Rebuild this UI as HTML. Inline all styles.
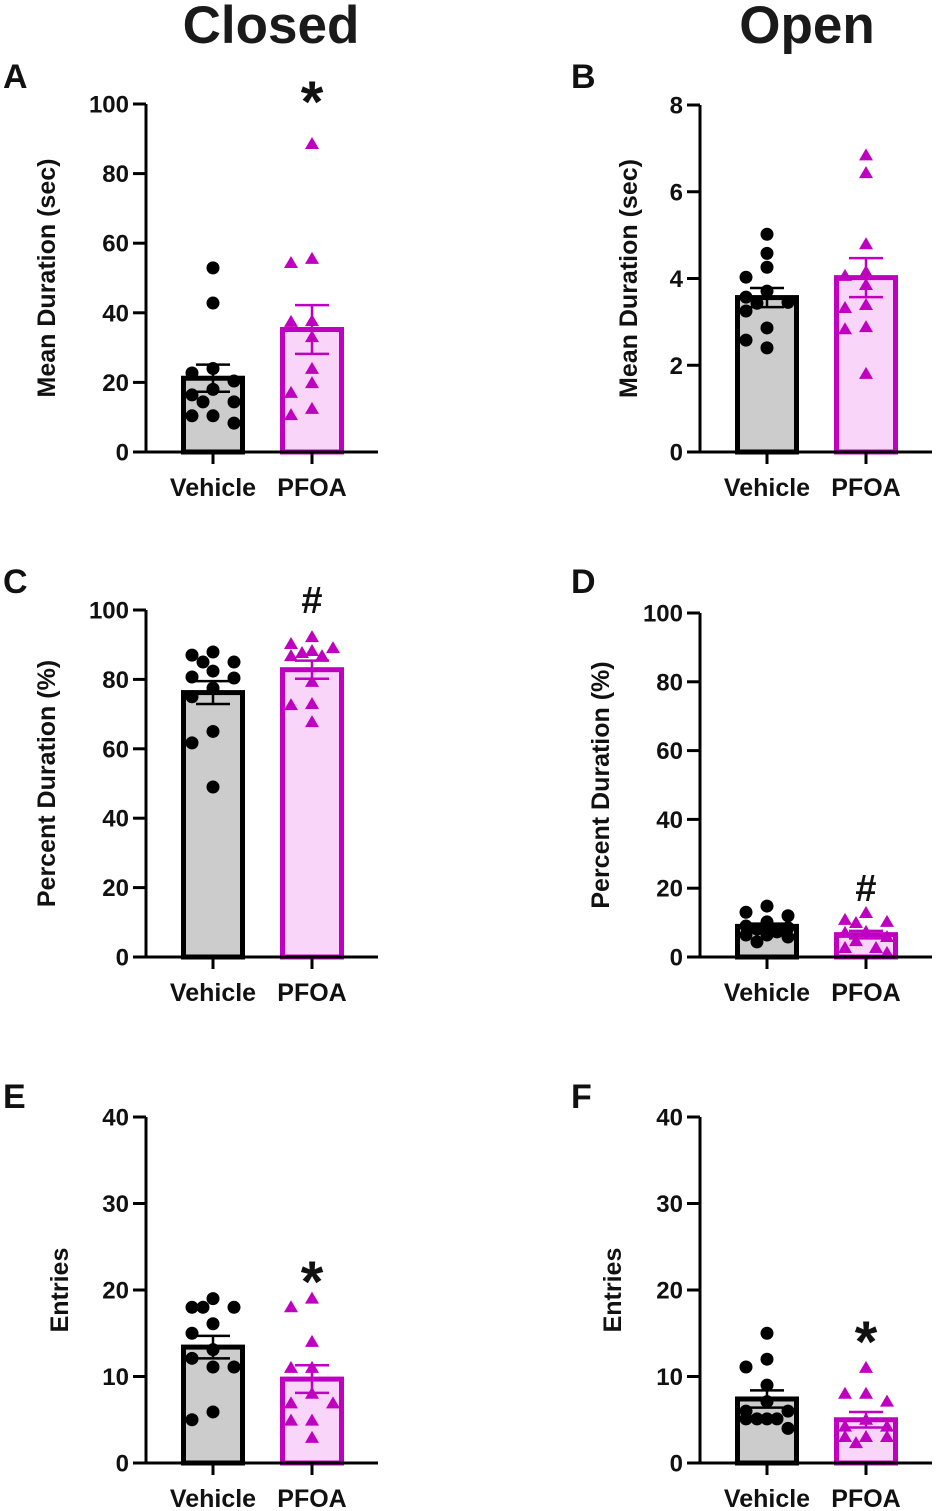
<!DOCTYPE html>
<html><head><meta charset="utf-8">
<style>
html,body{margin:0;padding:0;background:#fff;}
svg{display:block;font-family:"Liberation Sans",Arial,sans-serif;font-weight:bold;}
</style></head>
<body>
<svg id="fig" width="937" height="1511" viewBox="0 0 937 1511" xmlns="http://www.w3.org/2000/svg">
<text x="271" y="43" font-size="53" text-anchor="middle" fill="#1a1a1a">Closed</text>
<text x="807" y="43" font-size="53" text-anchor="middle" fill="#1a1a1a">Open</text>
</svg>
<script>
const categories = ["Vehicle", "PFOA"];
// Panel A: closed mean duration
const aVehicle = [52.9,42.8,24,22.7,20.4,18,16.4,14.4,14.4,10.4,10.4,8.3];
const aPfoa = [88.5,55.5,54.3,37.4,37.6,33,23.9,19.8,17,12.4,10.6];
const aMeans = [21.2,35.2];
const aSem = [3.9,7.0];
const aTicks = [0,20,40,60,80,100];
// Panel B: open mean duration
const bVehicle = [5.02,4.58,4.26,4.03,3.71,3.57,3.43,3.45,3.25,2.86,2.58,2.40];
const bPfoa = [6.84,6.43,4.79,4.06,4.15,3.85,3.39,3.32,2.88,2.83,1.80];
const bMeans = [3.56,4.02];
const bSem = [0.22,0.45];
const bTicks = [0,2,4,6,8];
// Panel C: closed percent duration
const cVehicle = [85,85,87,87.9,80.4,80.7,82.4,77.5,75,65,61.7,49];
const cPfoa = [90.2,89,92.2,88.2,87.6,86.7,86.7,79.3,72.9,72.6,67.7];
const cMeans = [76.2,82.8];
const cSem = [3.3,2.6];
const cTicks = [0,20,40,60,80,100];
// Panel D: open percent duration
const dVehicle = [14.8,13,12,10.2,9,8.5,8.1,7.3,6.4,6.4,5.8,4.4];
const dPfoa = [12.8,9.9,10.2,10.8,7,4.6,2.6,1.2,2.6,5.8,7.3];
const dMeans = [8.9,6.5];
const dSem = [0.8,1.1];
const dTicks = [0,20,40,60,80,100];
// Panel E: closed entries
const eVehicle = [19,18,18,18,16.1,15,13.1,11.1,11.1,12.1,5.9,5];
const ePfoa = [19,18,14,11,11,8,6.9,6.9,4.9,4.9,2.9];
const eMeans = [13.4,9.7];
const eSem = [1.3,1.6];
const eTicks = [0,10,20,30,40];
// Panel F: open entries
const fVehicle = [15,12,11.1,9,7.1,6,6,5.1,5.1,5.1,5.1,4];
const fPfoa = [11,8,8,7.1,5,3,3,3,4.2,2.3,4.2];
const fMeans = [7.4,5.0];
const fSem = [1.0,0.9];
const fTicks = [0,10,20,30,40];

const NS = "http://www.w3.org/2000/svg";
const svg = document.getElementById("fig");
function mk(tag, attrs, parent){
  const e = document.createElementNS(NS, tag);
  for (const k in attrs) e.setAttribute(k, attrs[k]);
  (parent||svg).appendChild(e);
  return e;
}
const MAG = "#c000c0";

// compact beeswarm within ±21px of category center
function swarm(vals, cx, yS){
  const order = vals.map((v,k)=>k).sort((a,b)=>vals[b]-vals[a]);
  const placed = [];
  const xs = new Array(vals.length);
  const cands = [0,-21,21,-10,10];
  order.forEach(k=>{
    const y = yS(vals[k]);
    let best = cx, bestD = -1;
    for (const o of cands){
      const x = cx + o;
      const d = placed.reduce((m,p)=>Math.min(m, Math.hypot(p.x-x, p.y-y)), 1e9);
      if (d >= 13){ best = x; bestD = d; break; }
      if (d > bestD){ bestD = d; best = x; }
    }
    xs[k] = best; placed.push({x:best,y});
  });
  return xs;
}

function panel(cfg){
  const g = mk("g", {});
  
  
  const ax = cfg.ax, y0 = cfg.y0, yt = cfg.yt, max = cfg.ticks[cfg.ticks.length-1];
  const yS = v => y0 - (v / max) * (y0 - yt);
  const xC = i => ax + (i === 0 ? 67 : 166);
  const left = (cfg.letter === "A"||cfg.letter==="C"||cfg.letter==="E");

  const L = mk("text", {x: left ? 3 : 571, y: cfg.ly, "font-size": 34, fill: "#111"}, g);
  L.textContent = cfg.letter;
  
  

  const yt2 = mk("text", {x: cfg.tx, y: (y0+yt)/2, "font-size": 25, "text-anchor": "middle", fill: "#111", transform: `rotate(-90 ${cfg.tx} ${(y0+yt)/2})`}, g);
  yt2.textContent = cfg.title;
  
  

  const means = cfg.means, sem = cfg.sem;
  const fills = ["#cccccc", "#f9d5f9"], strokes = ["#000", MAG];
  means.forEach((m,i)=>{
    const r = mk("rect", {x: xC(i)-29.5, y: yS(m), width: 59, height: y0 - yS(m), fill: fills[i]}, g);
    
    
  });
  const vx = swarm(cfg.veh, xC(0), yS);
  cfg.veh.forEach((v,k)=>{
    const c = mk("circle", {cx: vx[k], cy: yS(v), r: 6.5, fill: "#000"}, g);
    
    
  });
  const px = swarm(cfg.pf, xC(1), yS);
  cfg.pf.forEach((v,k)=>{
    const x = px[k], y = yS(v);
    const t = mk("polygon", {points: `${x},${y-7} ${x-7},${y+5} ${x+7},${y+5}`, fill: MAG}, g);
    
    
  });
  means.forEach((m,i)=>{
    const r = mk("rect", {x: xC(i)-29.5, y: yS(m), width: 59, height: y0 - yS(m), fill: "none", stroke: strokes[i], "stroke-width": 5}, g);
    
    
    const e = mk("path", {d: `M${xC(i)} ${yS(m+sem[i])}V${yS(m-sem[i])}M${xC(i)-17} ${yS(m+sem[i])}h34M${xC(i)-17} ${yS(m-sem[i])}h34`, stroke: strokes[i], "stroke-width": 2.5, fill: "none"}, g);
    
    
  });
  const ya = mk("path", {d: `M${ax} ${yt}V${y0+1.5}`, stroke: "#000", "stroke-width": 3, fill: "none"}, g);
  
  
  cfg.ticks.forEach(t=>{
    const tk = mk("path", {d: `M${ax-13} ${yS(t)}H${ax}`, stroke: "#000", "stroke-width": 3}, g);
    
    
    const tl = mk("text", {x: ax-17, y: yS(t)+8.5, "font-size": 24, "text-anchor": "end", fill: "#111"}, g);
    tl.textContent = t;
    
    
  });
  const xa = mk("path", {d: `M${ax-1.5} ${y0}H${ax+232}`, stroke: "#000", "stroke-width": 3}, g);
  
  
  categories.forEach((c,i)=>{
    const tk = mk("path", {d: `M${xC(i)} ${y0}V${y0+12}`, stroke: "#000", "stroke-width": 3}, g);
    
    
    const tl = mk("text", {x: xC(i), y: y0+44, "font-size": 25, "text-anchor": "middle", fill: "#111"}, g);
    tl.textContent = c;
    
    
  });
  if (cfg.mark){
    const a = mk("text", {x: xC(1), y: cfg.mark.y, "font-size": cfg.mark.s, "text-anchor": "middle", fill: "#111"}, g);
    a.textContent = cfg.mark.t;
    
    
  }
}

panel({letter:"A", ly:88, ax:146, y0:452, yt:104, ticks:aTicks, veh:aVehicle, pf:aPfoa, means:aMeans, sem:aSem, title:"Mean Duration (sec)", tx:55, mark:{t:"*", y:122, s:58}});
panel({letter:"B", ly:88, ax:700, y0:452, yt:105, ticks:bTicks, veh:bVehicle, pf:bPfoa, means:bMeans, sem:bSem, title:"Mean Duration (sec)", tx:637, mark:null});
panel({letter:"C", ly:593, ax:146, y0:957, yt:610, ticks:cTicks, veh:cVehicle, pf:cPfoa, means:cMeans, sem:cSem, title:"Percent Duration (%)", tx:55, mark:{t:"#", y:613, s:38}});
panel({letter:"D", ly:593, ax:700, y0:957, yt:613, ticks:dTicks, veh:dVehicle, pf:dPfoa, means:dMeans, sem:dSem, title:"Percent Duration (%)", tx:609, mark:{t:"#", y:901, s:38}});
panel({letter:"E", ly:1108, ax:146, y0:1463, yt:1117, ticks:eTicks, veh:eVehicle, pf:ePfoa, means:eMeans, sem:eSem, title:"Entries", tx:68, mark:{t:"*", y:1302, s:58}});
panel({letter:"F", ly:1108, ax:700, y0:1463, yt:1117, ticks:fTicks, veh:fVehicle, pf:fPfoa, means:fMeans, sem:fSem, title:"Entries", tx:621, mark:{t:"*", y:1362, s:58}});
</script>
</body></html>
